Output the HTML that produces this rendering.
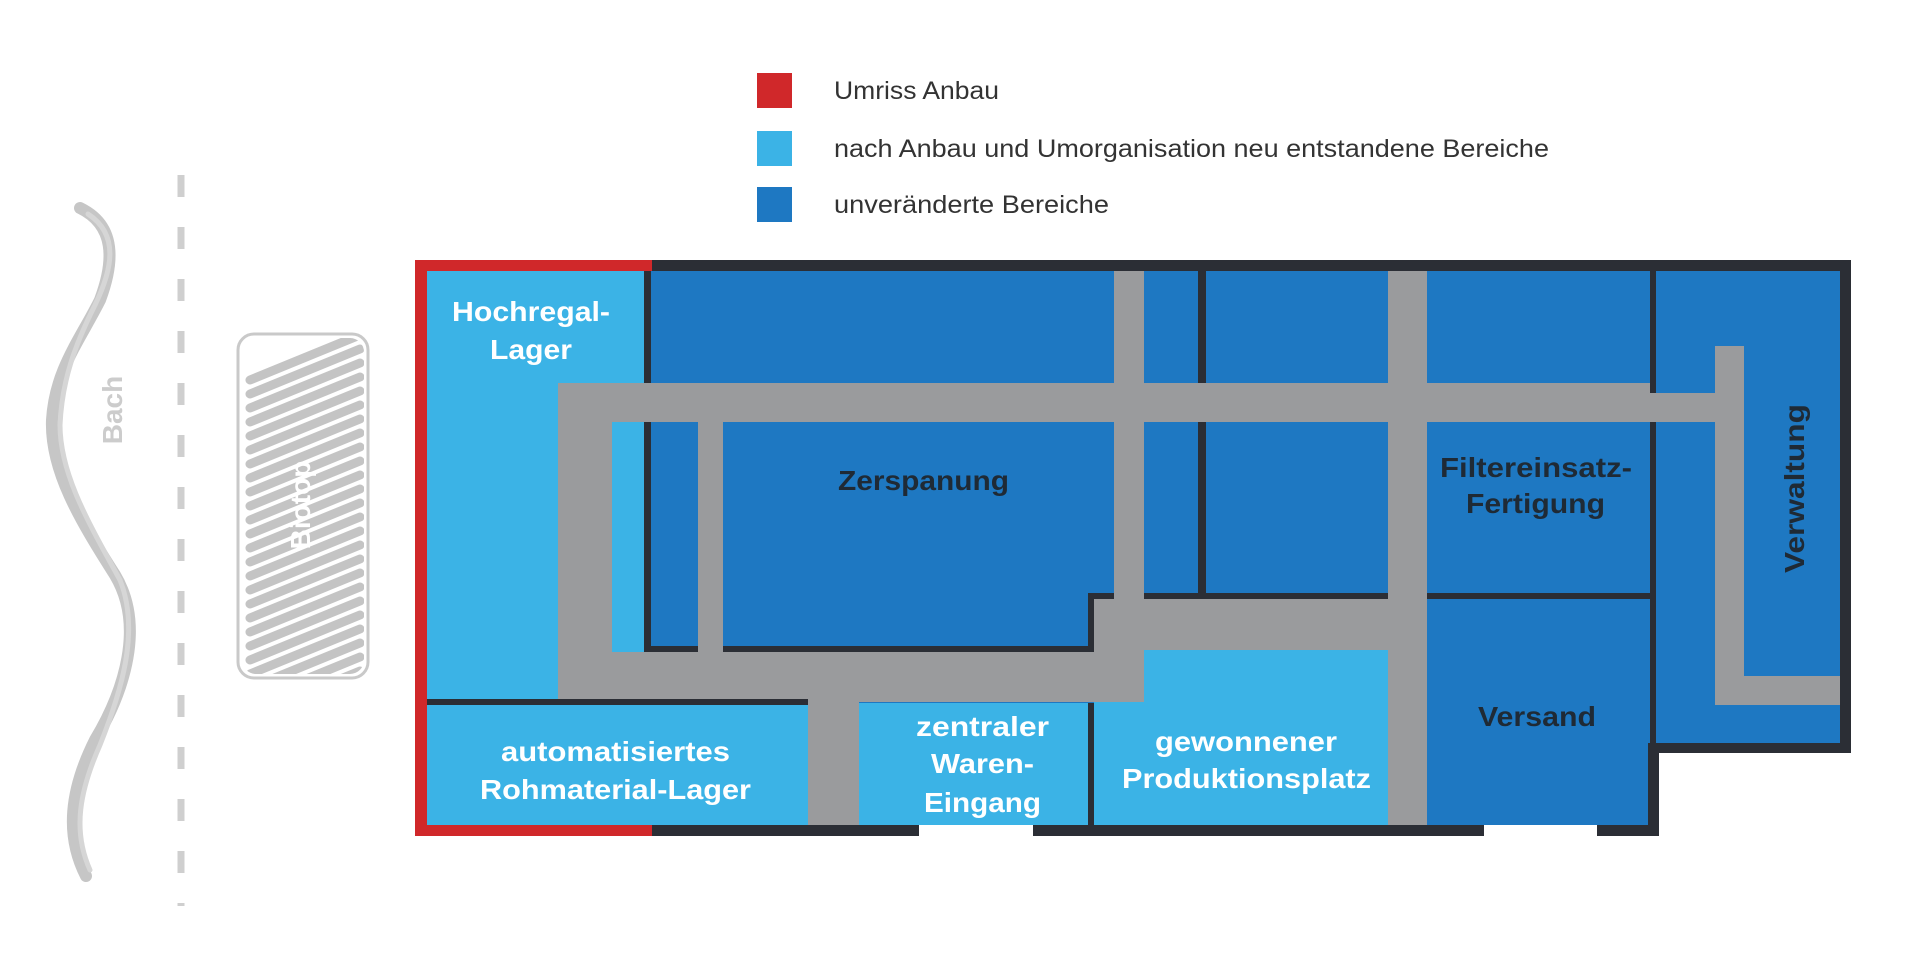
<!DOCTYPE html>
<html><head><meta charset="utf-8"><style>
html,body{margin:0;padding:0;background:#fff;overflow:hidden;}
svg{display:block;}
text{font-family:"Liberation Sans",sans-serif;}
</style></head><body>
<svg width="1920" height="972" viewBox="0 0 1920 972" xmlns="http://www.w3.org/2000/svg">
<!-- legend -->
<rect x="757" y="73" width="35" height="35" fill="#d0282a"/>
<rect x="757" y="131" width="35" height="35" fill="#3bb3e6"/>
<rect x="757" y="187" width="35" height="35" fill="#1e78c2"/>
<g font-size="25" fill="#333">
<text x="834" y="99" textLength="165" lengthAdjust="spacingAndGlyphs">Umriss Anbau</text>
<text x="834" y="157" textLength="715" lengthAdjust="spacingAndGlyphs">nach Anbau und Umorganisation neu entstandene Bereiche</text>
<text x="834" y="213" textLength="275" lengthAdjust="spacingAndGlyphs">unveränderte Bereiche</text>
</g>
<!-- dashed line -->
<line x1="181" y1="175" x2="181" y2="906" stroke="#cfcfcf" stroke-width="7" stroke-dasharray="22 30"/>
<!-- Bach -->
<g fill="none" stroke="#c6c6c6" stroke-linecap="round">
<path d="M80 208 C115 225 115 260 100 300 C80 340 55 370 52 420 C50 470 80 520 115 575 C145 625 125 690 95 740 C70 790 65 835 86 876" stroke-width="12"/>
<path d="M88 214 C120 235 112 270 95 305 C75 345 62 380 60 425 C60 475 90 525 120 580 C140 630 122 690 100 745 C80 790 72 830 90 870" stroke-width="5" stroke="#d6d6d6"/>
</g>
<text transform="translate(122,410) rotate(-90)" font-size="28" font-weight="bold" fill="#cccccc" text-anchor="middle">Bach</text>
<!-- Biotop -->
<defs><clipPath id="bc"><rect x="242" y="338" width="122" height="336" rx="14"/></clipPath></defs>
<rect x="238" y="334" width="130" height="344" rx="16" fill="#fff" stroke="#c9c9c9" stroke-width="3"/>
<g clip-path="url(#bc)" stroke="#c4c4c4" stroke-width="9" stroke-linecap="round">
<path d="M250 380 L360 335 M250 394 L360 349 M250 408 L360 363 M250 422 L360 377 M250 436 L360 391 M250 450 L360 405 M250 464 L360 419 M250 478 L360 433 M250 492 L360 447 M250 506 L360 461 M250 520 L360 475 M250 534 L360 489 M250 548 L360 503 M250 562 L360 517 M250 576 L360 531 M250 590 L360 545 M250 604 L360 559 M250 618 L360 573 M250 632 L360 587 M250 646 L360 601 M250 660 L360 615 M250 674 L360 629 M250 688 L360 643 M250 702 L360 657 M250 716 L360 671"/>
</g>
<text transform="translate(310,505) rotate(-90)" font-size="28" font-weight="bold" fill="#fff" text-anchor="middle">Biotop</text>

<!-- building outline -->
<rect x="415" y="260" width="1436" height="493" fill="#2b2e35"/>
<rect x="415" y="260" width="1244" height="576" fill="#2b2e35"/>
<rect x="427" y="271" width="1413" height="472" fill="#1e78c2"/>
<rect x="427" y="271" width="1221" height="554" fill="#1e78c2"/>
<rect x="919" y="825" width="114" height="14" fill="#fff"/>
<rect x="1484" y="825" width="113" height="14" fill="#fff"/>
<!-- red -->
<rect x="415" y="260" width="237" height="11" fill="#d0282a"/>
<rect x="415" y="260" width="12" height="576" fill="#d0282a"/>
<rect x="415" y="825" width="237" height="11" fill="#d0282a"/>

<!-- Hochregal -->
<rect x="427" y="271" width="217" height="428" fill="#3bb3e6"/>
<rect x="644" y="271" width="7" height="112" fill="#2b2e35"/>
<!-- corridors -->
<rect x="558" y="383" width="1092" height="39" fill="#9a9b9d"/>
<rect x="1650" y="393" width="94" height="29" fill="#9a9b9d"/>
<rect x="558" y="383" width="54" height="319" fill="#9a9b9d"/>
<rect x="1650" y="271" width="6" height="122" fill="#2b2e35"/>
<rect x="1650" y="422" width="6" height="322" fill="#2b2e35"/>
<rect x="1715" y="346" width="29" height="359" fill="#9a9b9d"/>
<rect x="1715" y="676" width="125" height="29" fill="#9a9b9d"/>
<!-- strip -->
<rect x="612" y="422" width="32" height="228" fill="#3bb3e6"/>
<rect x="644" y="422" width="7" height="230" fill="#2b2e35"/>
<rect x="644" y="646" width="54" height="6" fill="#2b2e35"/>
<rect x="698" y="422" width="25" height="230" fill="#9a9b9d"/>
<!-- Zerspanung borders -->
<rect x="723" y="646" width="371" height="6" fill="#2b2e35"/>
<rect x="1088" y="593" width="6" height="59" fill="#2b2e35"/>
<rect x="1088" y="593" width="26" height="6" fill="#2b2e35"/>
<rect x="1094" y="599" width="50" height="103" fill="#9a9b9d"/>
<rect x="1114" y="271" width="30" height="431" fill="#9a9b9d"/>
<rect x="558" y="652" width="586" height="50" fill="#9a9b9d"/>
<!-- middle -->
<rect x="1198" y="271" width="8" height="112" fill="#2b2e35"/>
<rect x="1198" y="422" width="8" height="177" fill="#2b2e35"/>
<rect x="1144" y="593" width="244" height="6" fill="#2b2e35"/>
<rect x="1427" y="593" width="223" height="6" fill="#2b2e35"/>
<rect x="1144" y="599" width="244" height="51" fill="#9a9b9d"/>
<rect x="1388" y="271" width="39" height="554" fill="#9a9b9d"/>
<rect x="1144" y="650" width="244" height="175" fill="#3bb3e6"/>
<rect x="1094" y="702" width="50" height="123" fill="#3bb3e6"/>
<!-- bottom row -->
<rect x="427" y="699" width="381" height="6" fill="#2b2e35"/>
<rect x="427" y="705" width="381" height="120" fill="#3bb3e6"/>
<rect x="808" y="702" width="51" height="123" fill="#9a9b9d"/>
<rect x="859" y="703" width="229" height="122" fill="#3bb3e6"/>
<rect x="1088" y="703" width="6" height="122" fill="#2b2e35"/>

<!-- labels -->
<g font-size="28" font-weight="bold" fill="#fff">
<text x="452" y="321" textLength="158" lengthAdjust="spacingAndGlyphs">Hochregal-</text>
<text x="490" y="359" textLength="82" lengthAdjust="spacingAndGlyphs">Lager</text>
<text x="501" y="761" textLength="229" lengthAdjust="spacingAndGlyphs">automatisiertes</text>
<text x="480" y="799" textLength="271" lengthAdjust="spacingAndGlyphs">Rohmaterial-Lager</text>
<text x="916" y="736" textLength="133" lengthAdjust="spacingAndGlyphs">zentraler</text>
<text x="931" y="773" textLength="103" lengthAdjust="spacingAndGlyphs">Waren-</text>
<text x="924" y="812" textLength="117" lengthAdjust="spacingAndGlyphs">Eingang</text>
<text x="1155" y="751" textLength="182" lengthAdjust="spacingAndGlyphs">gewonnener</text>
<text x="1122" y="788" textLength="249" lengthAdjust="spacingAndGlyphs">Produktionsplatz</text>
</g>
<g font-size="28" font-weight="bold" fill="#1f2a35">
<text x="838" y="490" textLength="171" lengthAdjust="spacingAndGlyphs">Zerspanung</text>
<text x="1440" y="477" textLength="192" lengthAdjust="spacingAndGlyphs">Filtereinsatz-</text>
<text x="1466" y="513" textLength="139" lengthAdjust="spacingAndGlyphs">Fertigung</text>
<text x="1478" y="726" textLength="118" lengthAdjust="spacingAndGlyphs">Versand</text>
<text transform="translate(1804,573) rotate(-90)" textLength="169" lengthAdjust="spacingAndGlyphs">Verwaltung</text>
</g>
</svg>
</body></html>
